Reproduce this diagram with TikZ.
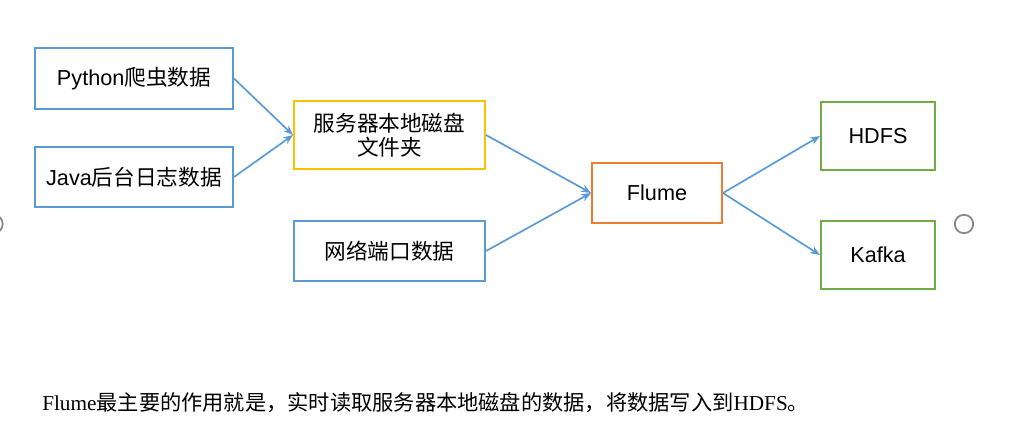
\documentclass[tikz,border=0pt]{standalone}
\usepackage{fontspec}
\usepackage{tikz}
\usetikzlibrary{arrows.meta}
\setmainfont{Liberation Sans}
\newfontfamily\cjk{Noto Sans CJK SC}
\newfontfamily\capserif{Liberation Serif}
\definecolor{lineblue}{HTML}{5B9BD5}
\definecolor{diskyellow}{HTML}{FFC000}
\definecolor{flumeorange}{HTML}{ED7D31}
\definecolor{sinkgreen}{HTML}{70AD47}
\definecolor{handlegray}{HTML}{8A8A8A}

\begin{document}
\begin{tikzpicture}[x=0.025cm, y=-0.025cm,
        box/.style = {draw, line width=1.4pt, fill=white, align=center,
            inner sep=2pt, font=\fontsize{15.4pt}{16.5pt}\selectfont},
        srcbox/.style = {box, draw=lineblue},
        flow/.style = {draw=lineblue, line width=1.2pt,
            -{Stealth[length=7pt, width=5.5pt]}}]
        \useasboundingbox (0, 0) rectangle (1033, 435);
        % data sources
        \node[srcbox, minimum width=4.95cm, minimum height=1.525cm] (python) at (134, 78.5) {Python{\cjk 爬虫数据}};
        \node[srcbox, minimum width=4.95cm, minimum height=1.5cm] (java) at (134, 177) {Java{\cjk 后台日志数据}};
        \node[box, draw=diskyellow, minimum width=4.775cm, minimum height=1.7cm] (disk) at (389.5, 135) {\cjk 服务器本地磁盘\\[1pt]\cjk 文件夹};
        \node[srcbox, minimum width=4.775cm, minimum height=1.5cm] (net) at (389.5, 251) {\cjk 网络端口数据};
        % flume and sinks
        \node[box, draw=flumeorange, minimum width=3.25cm, minimum height=1.5cm] (flume) at (657, 193) {Flume};
        \node[box, draw=sinkgreen, minimum width=2.85cm, minimum height=1.7cm] (hdfs) at (878, 136) {HDFS};
        \node[box, draw=sinkgreen, minimum width=2.85cm, minimum height=1.7cm] (kafka) at (878, 255) {Kafka};
        % connectors
        \draw[flow] (python.east) -- (disk.west);
        \draw[flow] (java.east) -- (disk.west);
        \draw[flow] (disk.east) -- (flume.west);
        \draw[flow] (net.east) -- (flume.west);
        \draw[flow] (flume.east) -- (hdfs.west);
        \draw[flow] (flume.east) -- (kafka.west);
        % selection handles
        \draw[handlegray, line width=1.3pt] (-6.5, 224) circle (0.23cm);
        \draw[handlegray, line width=1.3pt] (964, 224) circle (0.23cm);
        % caption
        \node[anchor=west, inner sep=0pt, font=\fontsize{15.1pt}{18pt}\selectfont] (caption) at (42, 403)
            {\capserif Flume{\cjk 最主要的作用就是，实时读取服务器本地磁盘的数据，将数据写入到}HDFS{\cjk 。}};
    \end{tikzpicture}
\end{document}
